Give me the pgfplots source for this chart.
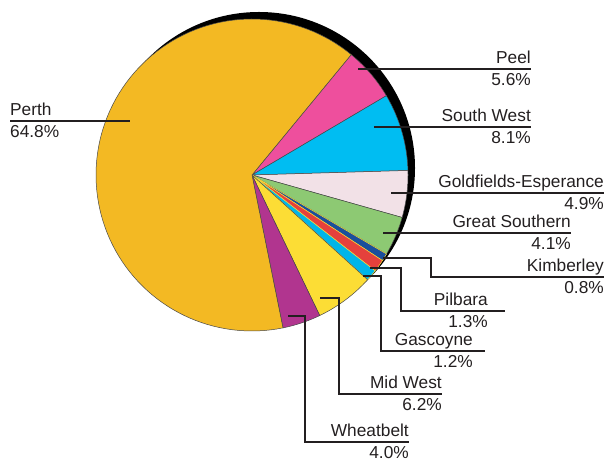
\documentclass[border=0pt]{standalone}
\usepackage{fontspec}
\setmainfont{Liberation Sans}
\usepackage{pgfplots}
\usepackage{pgfplotstable}
\pgfplotsset{compat=1.18}
\definecolor{cPerth}{HTML}{F3B923}
\definecolor{cPeel}{HTML}{EE4F9D}
\definecolor{cSW}{HTML}{00BDF2}
\definecolor{cGF}{HTML}{F2E1E7}
\definecolor{cGS}{HTML}{8DC973}
\definecolor{cKim}{HTML}{1B4F9C}
\definecolor{cPil}{HTML}{E5413C}
\definecolor{cGas}{HTML}{00B5E8}
\definecolor{cMW}{HTML}{FCDD35}
\definecolor{cWh}{HTML}{B1358F}
\definecolor{edgegray}{HTML}{4A4A4A}
\definecolor{ink}{HTML}{231F20}
\pgfplotstableread{
name pct col edge
Peel 5.6 cPeel edgegray
SouthWest 8.1 cSW edgegray
Goldfields 4.9 cGF edgegray
GreatSouthern 4.1 cGS edgegray
Kimberley 0.8 cKim cMW
Pilbara 1.3 cPil cMW
Gascoyne 1.2 cGas cMW
MidWest 6.2 cMW edgegray
Wheatbelt 4.0 cWh edgegray
Perth 64.8 cPerth edgegray
}\piedata
\newcommand{\rlbl}[4]{%
  \node[anchor=base east,inner sep=0pt,text=ink] at (axis cs:#1,-#2+5) {#3};
  \node[anchor=base east,inner sep=0pt,text=ink] at (axis cs:#1,-#2-17) {#4};
}
\begin{document}
\begin{tikzpicture}[font=\fontsize{17.3bp}{20bp}\selectfont]
\begin{axis}[width=609bp,height=463bp,scale only axis,
  xmin=0,xmax=609,ymin=-463,ymax=0,hide axis,clip=false]
\coordinate (BL) at (axis cs:0,-463);
\coordinate (TR) at (axis cs:609,0);
% shadow
\fill[black] (axis cs:259,-168) circle[radius=156];
% total
\def\acc{0}
\pgfplotsforeachungrouped \i in {0,...,9}{%
  \pgfplotstablegetelem{\i}{pct}\of\piedata
  \pgfmathsetmacro{\acc}{\acc+\pgfplotsretval}%
}
\pgfmathsetmacro{\degper}{360/\acc}
\def\start{50.5}
\pgfplotsforeachungrouped \i in {0,...,9}{%
  \pgfplotstablegetelem{\i}{pct}\of\piedata
  \pgfmathsetmacro{\stop}{\start-\degper*\pgfplotsretval}%
  \pgfplotstablegetelem{\i}{col}\of\piedata
  \edef\colr{\pgfplotsretval}%
  \pgfplotstablegetelem{\i}{edge}\of\piedata
  \edef\edg{\pgfplotsretval}%
  \edef\cmd{\noexpand\addplot[fill=\colr,draw=\edg,line width=0.5bp,domain=\stop:\start,samples=100]
    ({252+156*cos(x)},{-175+156*sin(x)}) -- (axis cs:252,-175) -- cycle;}%
  \cmd
  \let\start\stop
}
% leader lines
\begin{scope}[draw=ink,line width=2bp]
\draw (axis cs:10,-121) -- (axis cs:130,-121);
\draw (axis cs:358,-69) -- (axis cs:531,-69);
\draw (axis cs:374,-127) -- (axis cs:531,-127);
\draw (axis cs:391,-193) -- (axis cs:604,-193);
\draw (axis cs:383,-233) -- (axis cs:571,-233);
\draw (axis cs:383,-258) -- (axis cs:431,-258) -- (axis cs:431,-277) -- (axis cs:604,-277);
\draw (axis cs:370,-268) -- (axis cs:401,-268) -- (axis cs:401,-311) -- (axis cs:505,-311);
\draw (axis cs:363,-276) -- (axis cs:381,-276) -- (axis cs:381,-351) -- (axis cs:485,-351);
\draw (axis cs:320,-298) -- (axis cs:339,-298) -- (axis cs:339,-394) -- (axis cs:442,-394);
\draw (axis cs:288,-316) -- (axis cs:305,-316) -- (axis cs:305,-442) -- (axis cs:409,-442);
\end{scope}
% labels
\node[anchor=base west,inner sep=0pt,text=ink] at (axis cs:10,-116) {Perth};
\node[anchor=base west,inner sep=0pt,text=ink] at (axis cs:10,-138) {64.8\%};
\rlbl{531}{69}{Peel}{5.6\%}
\rlbl{531}{127}{South West}{8.1\%}
\rlbl{604}{193}{Goldfields-Esperance}{4.9\%}
\rlbl{571}{233}{Great Southern}{4.1\%}
\rlbl{604}{277}{Kimberley}{0.8\%}
\rlbl{488}{311}{Pilbara}{1.3\%}
\rlbl{473}{351}{Gascoyne}{1.2\%}
\rlbl{442}{394}{Mid West}{6.2\%}
\rlbl{409}{442}{Wheatbelt}{4.0\%}
\end{axis}
\pgfresetboundingbox
\useasboundingbox (BL) rectangle (TR);
\end{tikzpicture}
\end{document}
